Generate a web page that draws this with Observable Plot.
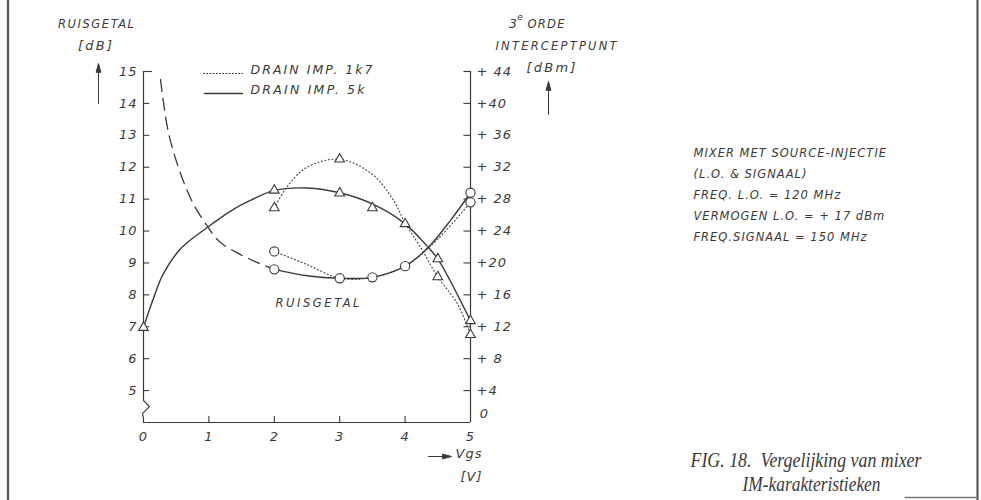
<!DOCTYPE html>
<html><head><meta charset="utf-8">
<script src="https://cdn.jsdelivr.net/npm/d3@7"></script>
<script src="https://cdn.jsdelivr.net/npm/@observablehq/plot@0.6"></script>
<style>
html,body{margin:0;padding:0;background:#fff;}
#chart svg text{letter-spacing:1px;}
</style></head>
<body><div id="chart"></div>
<script>
// ---- axis ticks / labels ----
const vgsTicks = [0, 1, 2, 3, 4, 5];
const nfTicks = [5, 6, 7, 8, 9, 10, 11, 12, 13, 14, 15];
const ipTicks = [4, 8, 12, 16, 20, 24, 28, 32, 36, 40, 44];
const ipTickLabels = ["+4", "+ 8", "+ 12", "+ 16", "+20", "+ 24", "+ 28", "+ 32", "+ 36", "+40", "+ 44"];

// ---- ruisgetal (noise figure, dB, left axis) ----
const nfDashVgs = [0.26, 0.38, 0.55, 0.75, 0.96, 1.16, 1.42, 1.7, 2];
const nfDash    = [14.75, 13.1, 11.9, 10.9, 10.2, 9.67, 9.33, 9.05, 8.8];
const nf5kVgs   = [2, 2.5, 3, 3.5, 4, 4.36, 4.7, 5];
const nf5k      = [8.8, 8.6, 8.52, 8.55, 8.9, 9.5, 10.35, 11.2];
const nf1k7Vgs  = [2, 2.5, 3, 3.5, 4, 4.5, 5];
const nf1k7     = [9.36, 8.95, 8.52, 8.55, 8.9, 9.75, 10.9];
const nf5kPtVgs  = [2, 3, 3.5, 4, 5];
const nf5kPt     = [8.8, 8.52, 8.55, 8.9, 11.2];
const nf1k7PtVgs = [2, 5];
const nf1k7Pt    = [9.36, 10.9];

// ---- 3e orde interceptpunt (dBm, right axis) ----
const ip5kVgs  = [0, 0.15, 0.3, 0.57, 1, 1.35, 1.65, 2, 2.5, 3, 3.5, 4, 4.36, 4.5, 5];
const ip5k     = [11.9, 15.5, 18.6, 21.8, 24.6, 26.6, 27.9, 29.1, 29.4, 28.8, 27.4, 24.9, 21.9, 20.5, 12.75];
const ip1k7Vgs = [2, 2.2, 2.5, 3, 3.5, 3.83, 4, 4.24, 4.5, 4.8, 5];
const ip1k7    = [26.9, 29.6, 32, 33, 31.1, 27.75, 25, 21.9, 18.25, 14.9, 11];
const ip5kPtVgs  = [0, 2, 3, 3.5, 4, 4.5, 5];
const ip5kPt     = [11.9, 29.1, 28.75, 26.9, 24.9, 20.5, 12.75];
const ip1k7PtVgs = [2, 3, 4.5, 5];
const ip1k7Pt    = [26.9, 33, 18.25, 11];

// ---- texts ----
const legendLabels = ["DRAIN IMP. 1k7", "DRAIN IMP. 5k"];
const infoLines = ["MIXER MET SOURCE-INJECTIE", "(L.O. & SIGNAAL)", "FREQ. L.O. = 120 MHz", "VERMOGEN L.O. = + 17 dBm", "FREQ.SIGNAAL = 150 MHz"];
const captionLines = ["FIG. 18.\u00A0 Vergelijking van mixer", "IM-karakteristieken"];

// ---- helpers ----
const W = 981, H = 500, ML = 143, MR = 511, MT = 71, MB = 78;
const INK = "#3a3a3a";
const SERIF = "'Liberation Serif', serif";
const toL = r => r / 4 + 4;              // dBm (right) -> dB (left) scale
const zip = (xs, ys) => xs.map((x, i) => ({x, y: ys[i]}));
const ipLabelOf = new Map(ipTicks.map((t, i) => [t, ipTickLabels[i]]));

function note(text, px, py, opts = {}) {
  return Plot.text([text], {frameAnchor: "top-left", dx: px - ML, dy: py - MT, text: d => d,
    textAnchor: "start", lineAnchor: "middle", fill: INK, ...opts});
}
const lineShape = {draw(ctx, l) { ctx.moveTo(0, 0); ctx.lineTo(0, -l); }};
const headShape = {draw(ctx, l) {
  ctx.moveTo(0, 0); ctx.lineTo(0, -l + 6);
  ctx.moveTo(-2.3, -l + 8.5); ctx.lineTo(0, -l); ctx.lineTo(2.3, -l + 8.5); ctx.closePath();
}};
function seg(x1, y1, x2, y2, opts = {}) {
  const ddx = x2 - x1, ddy = y2 - y1;
  return Plot.vector([0], {frameAnchor: "top-left", dx: x1 - ML, dy: y1 - MT, anchor: "start",
    length: Math.hypot(ddx, ddy), rotate: Math.atan2(ddx, -ddy) * 180 / Math.PI, shape: lineShape,
    stroke: INK, strokeWidth: 1.2, ...opts});
}
const arrow = (x1, y1, x2, y2) => seg(x1, y1, x2, y2, {shape: headShape, fill: INK, strokeWidth: 1});

const chart = Plot.plot({
  width: W, height: H,
  marginLeft: ML, marginRight: MR, marginTop: MT, marginBottom: MB,
  x: {domain: [0, 5]},
  y: {domain: [4, 15]},
  style: {fontFamily: "'DejaVu Sans', sans-serif", fontSize: "12px", fontStyle: "italic", color: INK, background: "#fff"},
  marks: [
    // page frame
    seg(7.5, 0, 7.5, 500, {strokeWidth: 2.2, stroke: "#555"}),
    seg(977, 0, 977, 500, {strokeWidth: 2.2, stroke: "#555"}),
    seg(905, 497, 977, 497, {strokeWidth: 1.6, stroke: "#777"}),

    // axes lines
    Plot.line([[0, 15], [0, 4.69], [0.09, 4.5], [-0.015, 4.28], [0, 4.125], [0, 4]], {stroke: INK, strokeWidth: 1.2}),
    Plot.ruleX([5], {y1: 4, y2: 15, stroke: INK, strokeWidth: 1.2}),
    Plot.ruleY([4], {x1: 0, x2: 5, stroke: INK, strokeWidth: 1.2}),
    // ticks
    Plot.ruleY(nfTicks.filter(t => t < 15), {y: d => d, x1: 0, x2: 0.095, stroke: INK, strokeWidth: 1.1}),
    Plot.ruleY([15], {y: d => d, x1: 0, x2: 0.14, stroke: INK, strokeWidth: 1.1}),
    Plot.ruleY(ipTicks.map(toL), {y: d => d, x1: 4.9, x2: 5, stroke: INK, strokeWidth: 1.1}),
    Plot.ruleX(vgsTicks.filter(t => t > 0 && t < 5), {x: d => d, y1: 4, y2: 4.19, stroke: INK, strokeWidth: 1.1}),
    // tick labels
    Plot.axisY(nfTicks, {anchor: "left", label: null, tickSize: 0, tickPadding: 6, fill: INK, fontSize: 13}),
    Plot.axisY(ipTicks.map(toL), {anchor: "right", label: null, tickSize: 0, tickPadding: 6, fill: INK, fontSize: 13,
      tickFormat: d => ipLabelOf.get(Math.round((d - 4) * 4))}),
    Plot.text(["0"], {x: 5, y: toL(0), text: d => d, dx: 14, dy: -9, fill: INK, fontSize: 13}),
    Plot.axisX(vgsTicks, {anchor: "bottom", label: null, tickSize: 0, tickPadding: 9, fill: INK, fontSize: 13}),

    // curves: ruisgetal
    Plot.line(zip(nfDashVgs, nfDash), {x: "x", y: "y", curve: "catmull-rom", stroke: INK, strokeWidth: 1.3, strokeDasharray: "12,7"}),
    Plot.line(zip(nf1k7Vgs, nf1k7), {x: "x", y: "y", curve: "catmull-rom", stroke: INK, strokeWidth: 1.1, strokeDasharray: "1,2.6"}),
    Plot.line(zip(nf5kVgs, nf5k), {x: "x", y: "y", curve: "catmull-rom", stroke: INK, strokeWidth: 1.4}),
    // curves: interceptpunt
    Plot.line(zip(ip1k7Vgs, ip1k7), {x: "x", y: d => toL(d.y), curve: "catmull-rom", stroke: INK, strokeWidth: 1.1, strokeDasharray: "1,2.6"}),
    Plot.line(zip(ip5kVgs, ip5k), {x: "x", y: d => toL(d.y), curve: "catmull-rom", stroke: INK, strokeWidth: 1.4}),
    // markers
    Plot.dot(zip(nf1k7PtVgs, nf1k7Pt), {x: "x", y: "y", r: 4.6, fill: "#fff", stroke: INK, strokeWidth: 1.1}),
    Plot.dot(zip(nf5kPtVgs, nf5kPt), {x: "x", y: "y", r: 4.6, fill: "#fff", stroke: INK, strokeWidth: 1.1}),
    Plot.dot(zip(ip1k7PtVgs, ip1k7Pt), {x: "x", y: d => toL(d.y), symbol: "triangle", r: 3.6, fill: "#fff", stroke: INK, strokeWidth: 1.1}),
    Plot.dot(zip(ip5kPtVgs, ip5kPt), {x: "x", y: d => toL(d.y), symbol: "triangle", r: 3.6, fill: "#fff", stroke: INK, strokeWidth: 1.1}),

    // legend
    seg(203, 73, 242, 73, {strokeDasharray: "1,2.2", strokeWidth: 1.1}),
    seg(204, 93, 242, 93, {strokeWidth: 1.5}),
    note(legendLabels[0], 250, 69, {fontSize: 12.5}),
    note(legendLabels[1], 250, 89, {fontSize: 12.5}),

    // left axis title
    note("RUISGETAL", 96, 24, {textAnchor: "middle", fontSize: 11.5}),
    note("[dB]", 95, 45, {textAnchor: "middle", fontSize: 13}),
    arrow(98, 103, 98, 63),
    // right axis title
    note("3", 513, 23, {textAnchor: "middle", fontSize: 12.5}),
    note("e", 520, 17, {textAnchor: "middle", fontSize: 9}),
    note("ORDE", 527, 24, {fontSize: 11.5}),
    note("INTERCEPTPUNT", 556, 46, {textAnchor: "middle", fontSize: 11.5}),
    note("[dBm]", 551, 67, {textAnchor: "middle", fontSize: 13}),
    arrow(548, 114, 548, 81),
    // x axis title
    arrow(428, 456, 451, 456),
    note("Vgs", 455, 453, {fontSize: 13}),
    note("[V]", 460, 476, {fontSize: 13}),

    // in-plot label
    note("RUISGETAL", 275, 303, {fontSize: 11.5}),

    // info block
    ...infoLines.map((t, i) => note(t, 693, 153 + i * 21, {fontSize: 11.5})),

    // caption
    note(captionLines[0], 690, 460, {fontFamily: SERIF, fontSize: 20}),
    note(captionLines[1], 742, 484, {fontFamily: SERIF, fontSize: 20})
  ]
});

// stretch / condense the hand-lettered labels to their printed widths
const printedWidth = new Map([
  ["RUISGETAL", [77, 85]], ["ORDE", [38]], ["INTERCEPTPUNT", [122]], ["[dBm]", [50]], ["[dB]", [35]],
  [legendLabels[0], [123]], [legendLabels[1], [115]],
  [captionLines[0], [231]], [captionLines[1], [138]]
]);
chart.querySelectorAll("text").forEach(t => {
  const list = printedWidth.get(t.textContent);
  if (!list || !list.length) return;
  const w = list.shift();
  const isCaption = captionLines.includes(t.textContent);
  t.style.letterSpacing = isCaption ? "0px" : "1px";
  t.setAttribute("textLength", w);
  t.setAttribute("lengthAdjust", isCaption ? "spacingAndGlyphs" : "spacing");
});
document.getElementById("chart").appendChild(chart);
</script>
</body></html>
